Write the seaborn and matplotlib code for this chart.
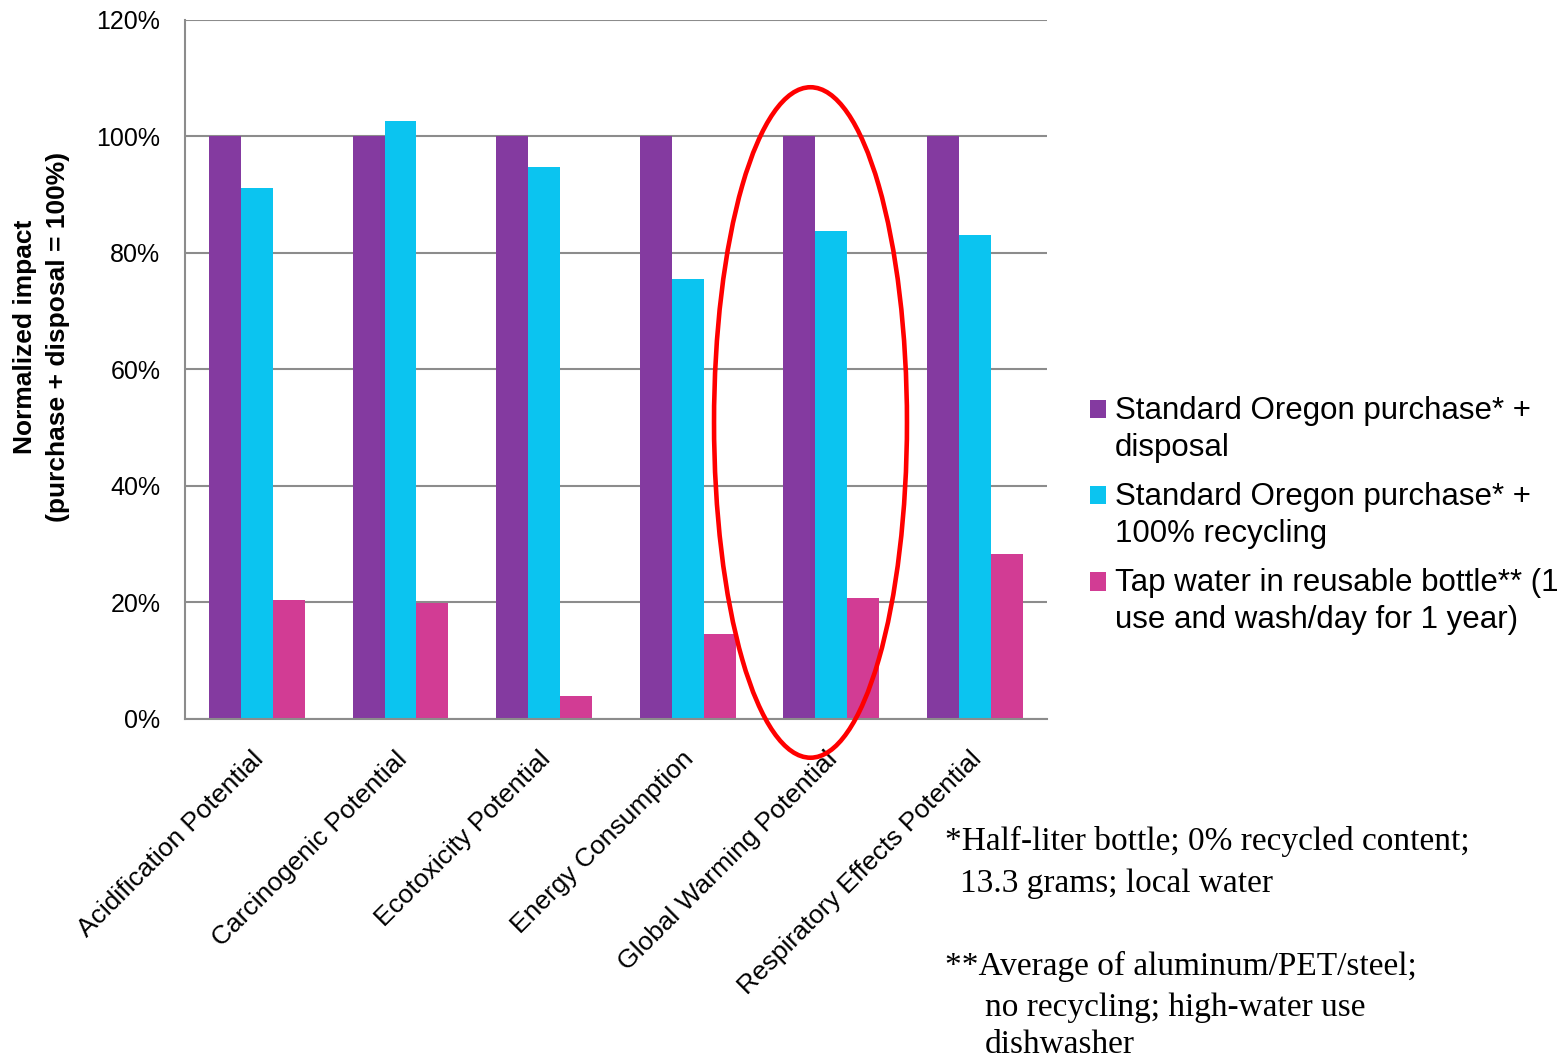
import numpy as np
import pandas as pd
import seaborn as sns
import matplotlib.pyplot as plt
from matplotlib.patches import Ellipse
from matplotlib.ticker import PercentFormatter
from matplotlib.transforms import ScaledTranslation

categories = ["Acidification Potential", "Carcinogenic Potential", "Ecotoxicity Potential",
              "Energy Consumption", "Global Warming Potential", "Respiratory Effects Potential"]
series_names = ["Standard Oregon purchase* +\ndisposal",
                "Standard Oregon purchase* +\n100% recycling",
                "Tap water in reusable bottle** (1\nuse and wash/day for 1 year)"]
purchase_disposal = [100, 100, 100, 100, 100, 100]
purchase_recycling = [91.2, 102.7, 94.8, 75.6, 83.8, 83.0]
tap_reusable = [20.4, 19.9, 4.0, 14.6, 20.8, 28.4]
colors = ["#843AA0", "#0BC4F0", "#D23C94"]
yticks = [0, 20, 40, 60, 80, 100, 120]
footnotes = ["*Half-liter bottle; 0% recycled content;",
             "13.3 grams; local water",
             "**Average of aluminum/PET/steel;",
             "no recycling; high-water use",
             "dishwasher"]

rows = []
for name, vals in zip(series_names, [purchase_disposal, purchase_recycling, tap_reusable]):
    for cat, v in zip(categories, vals):
        rows.append({"Category": cat, "Series": name, "Impact": v})
df = pd.DataFrame(rows)

sns.set_style("white")
plt.rcParams["font.family"] = ["Liberation Sans", "DejaVu Sans"]
plt.rcParams["text.color"] = "black"
plt.rcParams["xtick.labelcolor"] = "black"
plt.rcParams["ytick.labelcolor"] = "black"

gray = "#8c8c8c"
fig = plt.figure(figsize=(15.68, 10.62), dpi=100)
ax = fig.add_axes([0.118, 0.323, 0.5497, 0.6582])

sns.barplot(data=df, x="Category", y="Impact", hue="Series", palette=colors,
            width=0.668, gap=0, linewidth=0, saturation=1, errorbar=None, ax=ax)

ax.set_xlim(-0.5, 5.5)
ax.set_ylim(0, 120)
ax.set_yticks(yticks)
ax.yaxis.set_major_formatter(PercentFormatter(100, decimals=0))
ax.yaxis.grid(True, color=gray, lw=1.5)
ax.set_axisbelow(True)
ax.set_xlabel("")
ax.set_ylabel("")
for s in ["top", "right"]:
    ax.spines[s].set_visible(False)
for s in ["left", "bottom"]:
    ax.spines[s].set_color(gray)
    ax.spines[s].set_linewidth(1.5)

ax.tick_params(axis="y", length=5.8, width=1.5, color=gray, labelsize=18, pad=12)
ax.set_xticks(range(len(categories)))
ax.set_xticklabels(categories, rotation=45, ha="right", rotation_mode="anchor", fontsize=19)
ax.tick_params(axis="x", which="major", length=0, pad=20)
ax.set_xticks(np.arange(-0.5, len(categories)), minor=True)
ax.tick_params(axis="x", which="minor", length=5.8, width=1.5, color=gray)
shift = ScaledTranslation(-6 / 100, 0, fig.dpi_scale_trans)
for lab in ax.get_xticklabels():
    lab.set_transform(lab.get_transform() + shift)

# red ring round Global Warming Potential
ax.add_patch(Ellipse((3.854, 50.9), 1.343, 115.1, fill=False, edgecolor="red",
                     lw=3.3, clip_on=False, zorder=5))

sns.move_legend(ax, "upper left", bbox_to_anchor=(0.6952, 0.6272), bbox_transform=fig.transFigure,
                frameon=False, fontsize=22.5, handlelength=0.52, handleheight=0.52,
                handletextpad=0.28, labelspacing=0.61, borderpad=0, borderaxespad=0)
leg = ax.get_legend()
leg.set_title("")
for t in leg.get_texts():
    t.set_linespacing(1.31)
for h in leg.legend_handles:
    h.set_y(h.get_y() + 15)

fig.text(0.0265, 1 - 337 / 1062, "Normalized impact\n(purchase + disposal = 100%)",
         rotation=90, ha="center", va="center", ma="center", fontsize=19,
         fontweight="bold", linespacing=1.45)

note_x = [945, 960, 945, 985, 985]
note_y = [841, 884, 966, 1008, 1045]
for txt, x, y in zip(footnotes, note_x, note_y):
    fig.text(x / 1568, 1 - y / 1062, txt, ha="left", va="center",
             fontsize=24, family="Liberation Serif")

plt.savefig("out.png", dpi=100)
